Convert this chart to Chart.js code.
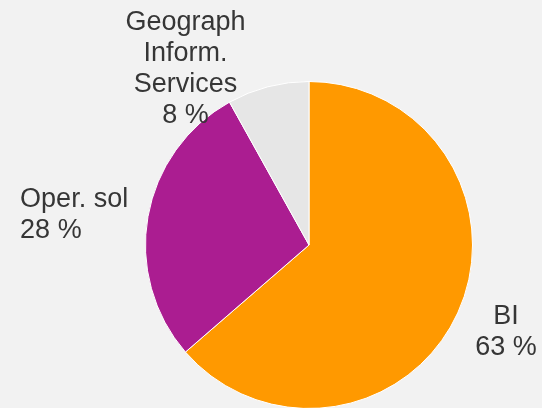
<!DOCTYPE html>
<html>
<head>
<meta charset="utf-8">
<script src="https://cdn.jsdelivr.net/npm/chart.js@4"></script>
<style>
  html, body { margin: 0; padding: 0; background: #f2f2f2; overflow: hidden; }
  #wrap { width: 542px; height: 412px; }
</style>
</head>
<body>
<div id="wrap"><canvas id="chart1"></canvas></div>
<script>
//slice names, one line per array item
var sliceNames = [["BI"], ["Oper. sol"], ["Geograph", "Inform.", "Services"]];
//share of each slice in percent
var sliceValues = [63, 28, 8];
var sliceColors = ["#ff9900", "#ab1d91", "#e6e6e6"];

//where each label sits, measured from the pie centre in radii
var labelSpots = [
	{ dx: 1.205, dy: 0.486, align: "center" },
	{ dx: -1.767, dy: -0.235, align: "left" },
	{ dx: -0.755, dy: -1.312, align: "center" }
];

//draws the text labels next to the slices
var outsideLabels = {
	id: "outsideLabels",
	afterDraw: function(chart) {
		var ctx = chart.ctx;
		var arcs = chart.getDatasetMeta(0).data;
		ctx.save();
		ctx.font = "27px 'Liberation Sans', Arial, sans-serif";
		ctx.fillStyle = "#363636";
		ctx.textBaseline = "alphabetic";
		for (var i = 0; i < arcs.length; i++) {
			var arc = arcs[i];
			var r = arc.outerRadius;
			var x = arc.x + labelSpots[i].dx * r;
			var y = arc.y + labelSpots[i].dy * r;
			var lines = sliceNames[i].concat([sliceValues[i] + " %"]);
			ctx.textAlign = labelSpots[i].align;
			for (var j = 0; j < lines.length; j++) {
				ctx.fillText(lines[j], x, y + j * 31);
			}
		}
		ctx.restore();
	}
};

var chart = new Chart(document.getElementById("chart1"), {
	type: "pie",
	data: {
		labels: sliceNames.map(function(n) { return n.join(" "); }),
		datasets: [{
			data: sliceValues,
			backgroundColor: sliceColors,
			borderColor: "#ffffff",
			borderWidth: 1
		}]
	},
	options: {
		responsive: true,
		maintainAspectRatio: false,
		animation: false,
		layout: { padding: { top: 81, bottom: 3, left: 145, right: 69 } },
		plugins: {
			legend: { display: false },
			tooltip: { enabled: false }
		}
	},
	plugins: [outsideLabels]
});
</script>
</body>
</html>
